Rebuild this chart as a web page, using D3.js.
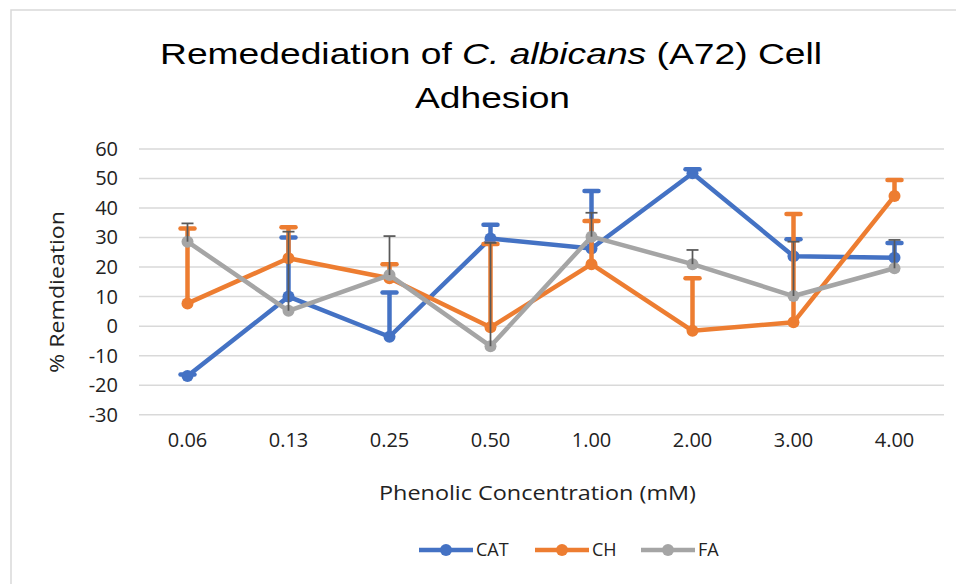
<!DOCTYPE html>
<html>
<head>
<meta charset="utf-8">
<script src="https://cdn.jsdelivr.net/npm/d3@7"></script>
<style>
  body { margin: 0; background: #fff; }
  svg { display: block; }
</style>
</head>
<body>
<svg id="chart" width="956" height="584"></svg>
<script>
const categories = ['0.06', '0.13', '0.25', '0.50', '1.00', '2.00', '3.00', '4.00'];
const yTicks = [-30, -20, -10, 0, 10, 20, 30, 40, 50, 60];

const catValues = [-16.9, 10, -3.6, 29.7, 26.3, 51.8, 23.7, 23.2];
const catErrors = [0.5, 20, 15, 4.6, 19.5, 1.3, 5.7, 5];
const chValues = [7.7, 23, 16.2, -0.4, 21, -1.6, 1.3, 44.1];
const chErrors = [25.4, 10.5, 4.8, 28.2, 14.6, 17.8, 36.7, 5.4];
const faValues = [28.6, 5.2, 17.3, -6.8, 30.3, 21, 10.2, 19.6];
const faErrors = [6.2, 26.8, 13.2, 35, 8.1, 4.8, 18.4, 9.6];

const series = [
    { name: 'CAT', values: catValues, errors: catErrors, color: '#4472C4', errColor: '#4472C4', errWidth: 4.5, capW: 14 },
    { name: 'CH', values: chValues, errors: chErrors, color: '#ED7D31', errColor: '#ED7D31', errWidth: 4.5, capW: 14 },
    { name: 'FA', values: faValues, errors: faErrors, color: '#A5A5A5', errColor: '#595959', errWidth: 1.75, capW: 12 }
];

const svg = d3.select('#chart');
const tickFont = '"Open Sans", "Noto Sans", sans-serif';
const textColor = '#222';

// chart frame
svg.append('rect')
    .attr('x', 11).attr('y', 10)
    .attr('width', 1000).attr('height', 1000)
    .attr('fill', '#fff')
    .attr('stroke', '#d9d9d9')
    .attr('stroke-width', 1.5);

const x = d3.scaleBand().domain(categories).range([137, 945]);
const y = d3.scaleLinear().domain([-30, 60]).range([414.7, 149]);

// gridlines
svg.append('g')
    .selectAll('line')
    .data(yTicks)
    .join('line')
    .attr('x1', 139).attr('x2', 944)
    .attr('y1', d => y(d)).attr('y2', d => y(d))
    .attr('stroke', '#d9d9d9')
    .attr('stroke-width', 1.5);

// y axis labels (plain hyphen like the original)
const yAxis = svg.append('g')
    .attr('transform', 'translate(118,0)')
    .call(d3.axisLeft(y).tickValues(yTicks).tickFormat(d => String(d)).tickSize(0).tickPadding(0));
yAxis.select('.domain').remove();
yAxis.selectAll('text')
    .attr('font-family', tickFont)
    .attr('font-size', 20)
    .attr('fill', textColor);

// x axis labels
const xAxis = svg.append('g')
    .attr('transform', 'translate(0,433)')
    .call(d3.axisBottom(x).tickSize(0).tickPadding(0));
xAxis.select('.domain').remove();
xAxis.selectAll('text')
    .attr('font-family', tickFont)
    .attr('font-size', 20)
    .attr('fill', textColor);

// titles
const titleFont = '"Liberation Sans", Arial, sans-serif';
const line1 = svg.append('text')
    .attr('x', 160).attr('y', 64)
    .attr('font-family', titleFont)
    .attr('font-size', 30)
    .attr('textLength', 662)
    .attr('lengthAdjust', 'spacingAndGlyphs')
    .attr('fill', '#000');
line1.append('tspan').text('Remedediation of ');
line1.append('tspan').attr('font-style', 'italic').text('C. albicans');
line1.append('tspan').text(' (A72) Cell');

svg.append('text')
    .attr('x', 415).attr('y', 108)
    .attr('font-family', titleFont)
    .attr('font-size', 30)
    .attr('textLength', 155)
    .attr('lengthAdjust', 'spacingAndGlyphs')
    .attr('fill', '#000')
    .text('Adhesion');

svg.append('text')
    .attr('transform', 'translate(64,292) rotate(-90)')
    .attr('text-anchor', 'middle')
    .attr('font-family', tickFont)
    .attr('font-size', 20)
    .attr('textLength', 162)
    .attr('lengthAdjust', 'spacingAndGlyphs')
    .attr('fill', textColor)
    .text('% Remdieation');

svg.append('text')
    .attr('x', 379).attr('y', 500)
    .attr('font-family', tickFont)
    .attr('font-size', 20)
    .attr('textLength', 317)
    .attr('lengthAdjust', 'spacingAndGlyphs')
    .attr('fill', textColor)
    .text('Phenolic Concentration (mM)');

const cx = c => x(c) + x.bandwidth() / 2;

const line = d3.line()
    .x((d, i) => cx(categories[i]))
    .y(d => y(d));

series.forEach(s => {
    const g = svg.append('g');
    g.append('path')
        .attr('d', line(s.values))
        .attr('fill', 'none')
        .attr('stroke', s.color)
        .attr('stroke-width', 4.5)
        .attr('stroke-linejoin', 'round');

    g.selectAll('circle')
        .data(s.values)
        .join('circle')
        .attr('cx', (d, i) => cx(categories[i]))
        .attr('cy', d => y(d))
        .attr('r', 6)
        .attr('fill', s.color);

    const eb = g.selectAll('g.err')
        .data(s.values)
        .join('g')
        .attr('class', 'err');
    eb.append('line')
        .attr('x1', (d, i) => cx(categories[i]))
        .attr('x2', (d, i) => cx(categories[i]))
        .attr('y1', d => y(d))
        .attr('y2', (d, i) => y(d + s.errors[i]))
        .attr('stroke', s.errColor)
        .attr('stroke-width', s.errWidth);
    eb.append('line')
        .attr('x1', (d, i) => cx(categories[i]) - s.capW / 2)
        .attr('x2', (d, i) => cx(categories[i]) + s.capW / 2)
        .attr('y1', (d, i) => y(d + s.errors[i]))
        .attr('y2', (d, i) => y(d + s.errors[i]))
        .attr('stroke', s.errColor)
        .attr('stroke-width', s.errWidth)
        .attr('stroke-linecap', s.errWidth > 2 ? 'round' : 'butt');
});

// legend
const legendItems = [
    { s: series[0], x: 419 },
    { s: series[1], x: 535 },
    { s: series[2], x: 641 }
];
const legend = svg.append('g').attr('transform', 'translate(0,550)');
legendItems.forEach(item => {
    legend.append('line')
        .attr('x1', item.x).attr('x2', item.x + 54)
        .attr('y1', 0).attr('y2', 0)
        .attr('stroke', item.s.color)
        .attr('stroke-width', 4.5);
    legend.append('circle')
        .attr('cx', item.x + 27).attr('cy', 0).attr('r', 6)
        .attr('fill', item.s.color);
    legend.append('text')
        .attr('x', item.x + 57).attr('y', 0)
        .attr('dy', '0.35em')
        .attr('font-family', tickFont)
        .attr('font-size', 18)
        .attr('fill', textColor)
        .text(item.s.name);
});
</script>
</body>
</html>
